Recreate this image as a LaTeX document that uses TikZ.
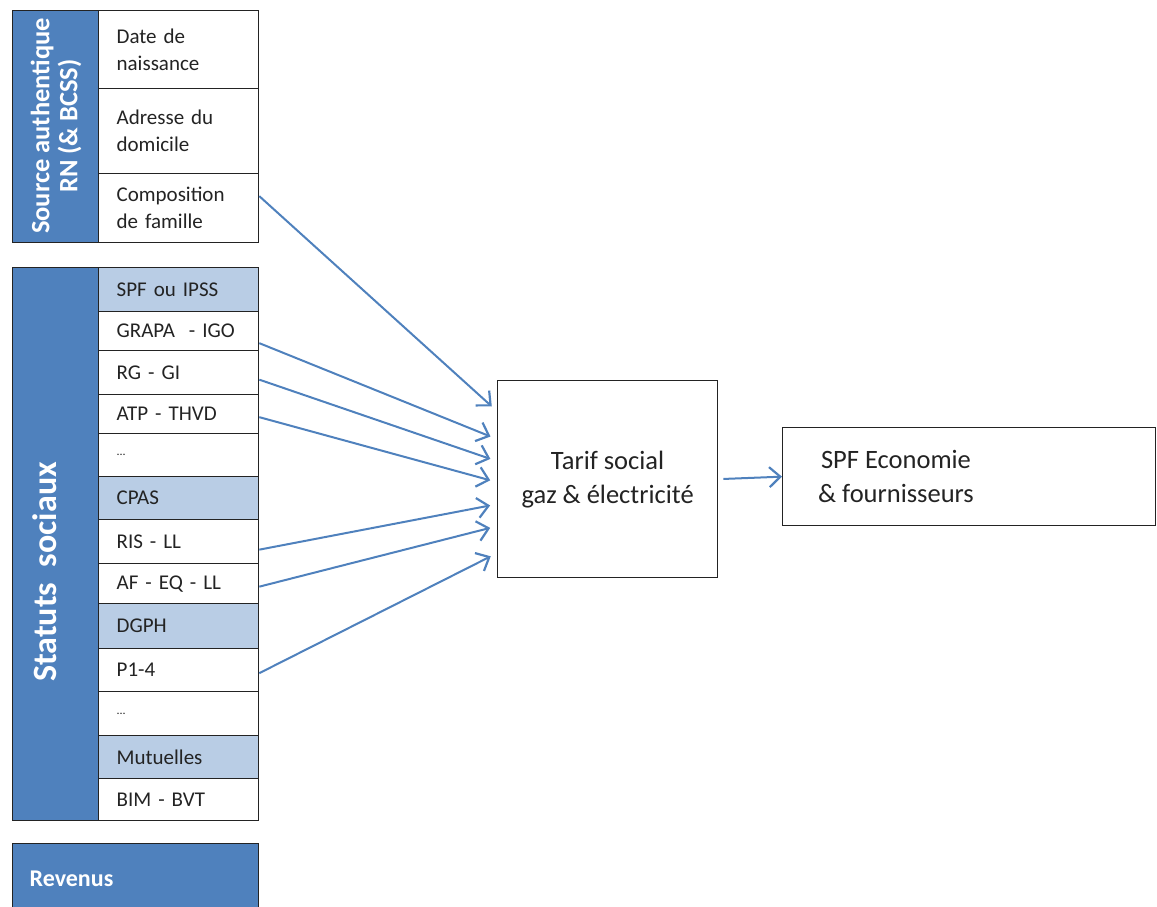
\documentclass[tikz,border=0pt]{standalone}
\usepackage{fontspec}
\setmainfont{Carlito}
\usepackage{tikz}
\usetikzlibrary{arrows.meta}

\definecolor{darkblue}{RGB}{79,129,189}
\definecolor{lightblue}{RGB}{185,205,229}
\definecolor{inkgray}{RGB}{35,35,35}

\tikzset{
    cell/.style={draw=inkgray, line width=1.3pt, anchor=north west, text width=124pt,
        inner xsep=18pt, inner ysep=0pt, align=left, text=inkgray,
        font=\fontsize{21}{27}\selectfont},
    shaded/.style={cell, fill=lightblue},
    column/.style={draw=inkgray, line width=1.3pt, fill=darkblue, anchor=north west,
        minimum width=86pt, inner sep=0pt},
    bigbox/.style={draw=inkgray, line width=1.3pt, anchor=north west, align=center,
        text=inkgray, font=\fontsize{26.5}{34}\selectfont},
    feed/.style={-{Straight Barb[length=11pt,width=20pt,line width=2.2pt]}, darkblue, line width=2pt},
}

\begin{document}
\begin{tikzpicture}[x=1pt, y=-1pt]
    \clip (0,0) rectangle (1157,906);

    % Define nodes
    \node[column, minimum height=232pt] (srccol) at (12,10) {};
    \node[rotate=90, align=center, text=white, font=\bfseries\fontsize{26.5}{28}\selectfont] (srclabel) at (56,126) {Source authentique\\RN (\& BCSS)};
    \node[cell, minimum height=78pt] (dob) at (98,10) {Date de\\naissance};
    \node[cell, minimum height=85pt] (addr) at (98,88) {Adresse du\\domicile};
    \node[cell, minimum height=69pt] (comp) at (98,173) {Composition\\de famille};

    \node[column, minimum height=553pt] (statcol) at (12,267) {};
    \node[rotate=90, text=white, font=\bfseries\fontsize{34}{36}\selectfont] (statlabel) at (45,572) {Statuts\ \ sociaux};
    \node[shaded, minimum height=44pt] (spf) at (98,267) {SPF ou IPSS};
    \node[cell, minimum height=39pt] (grapa) at (98,311) {GRAPA \ - IGO};
    \node[cell, minimum height=44pt] (rg) at (98,350) {RG - GI};
    \node[cell, minimum height=39pt] (atp) at (98,394) {ATP - THVD};
    \node[cell, minimum height=43pt, font=\fontsize{12}{13}\selectfont] (etc1) at (98,433) {...};
    \node[shaded, minimum height=43pt] (cpas) at (98,476) {CPAS};
    \node[cell, minimum height=44pt] (ris) at (98,519) {RIS - LL};
    \node[cell, minimum height=40pt] (af) at (98,563) {AF - EQ - LL};
    \node[shaded, minimum height=45pt] (dgph) at (98,603) {DGPH};
    \node[cell, minimum height=43pt] (pcat) at (98,648) {P1-4};
    \node[cell, minimum height=44pt, font=\fontsize{12}{13}\selectfont] (etc2) at (98,691) {...};
    \node[shaded, minimum height=43pt] (mut) at (98,735) {Mutuelles};
    \node[cell, minimum height=42pt] (bim) at (98,778) {BIM - BVT};

    \node[column, minimum width=246pt, minimum height=70pt, text width=212pt, inner xsep=17pt,
        align=left, text=white, font=\bfseries\fontsize{24}{26}\selectfont] (rev) at (12,843) {Revenus};

    \node[bigbox, minimum width=220pt, minimum height=197pt] (tarif) at (497,380) {Tarif social\\gaz \& électricité};
    \node[bigbox, minimum width=373pt, minimum height=98pt] (eco) at (782,427) {};
    \node[align=center, text=inkgray, font=\fontsize{26.5}{34}\selectfont] (ecotext) at (896,476) {SPF Economie\\\& fournisseurs};

    % Draw arrows
    \draw[feed, shorten >=7pt] ([yshift=12pt]comp.east) -- ([yshift=68pt]tarif.west);
    \draw[feed, shorten >=7pt] ([yshift=-12pt]grapa.east) -- ([yshift=40pt]tarif.west);
    \draw[feed, shorten >=7pt] ([yshift=-7pt]rg.east) -- ([yshift=18pt]tarif.west);
    \draw[feed, shorten >=7pt] ([yshift=-3pt]atp.east) -- ([yshift=-3pt]tarif.west);
    \draw[feed, shorten >=7pt] ([yshift=-8pt]ris.east) -- ([yshift=-25pt]tarif.west);
    \draw[feed, shorten >=7pt] ([yshift=-3pt]af.east) -- ([yshift=-47pt]tarif.west);
    \draw[feed, shorten >=7pt] ([yshift=-3pt]pcat.east) -- ([yshift=-74pt]tarif.west);
    \draw[feed, shorten <=5pt] (tarif.east) -- (eco.west);
\end{tikzpicture}
\end{document}
